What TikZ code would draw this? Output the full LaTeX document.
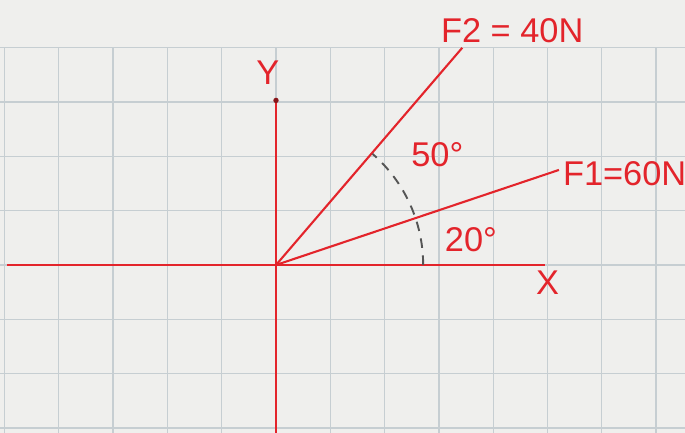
\documentclass[tikz,border=0pt]{standalone}
\usepackage{fontspec}
\setmainfont{Liberation Sans}
\usetikzlibrary{arrows.meta}
\definecolor{paper}{HTML}{EFEFED}
\definecolor{gridline}{HTML}{C6CED2}
\definecolor{ink}{HTML}{E3242B}
\definecolor{pencil}{HTML}{555555}

\begin{document}
\begin{tikzpicture}[>=Latex,
  axisline/.style={ink,line width=1.2pt},
  forceline/.style={ink,line width=1.1pt},
  lbl/.style={ink,font=\fontsize{18}{18}\selectfont}]
\fill[paper] (-5.083,-3.094) rectangle (7.532,4.880);
\useasboundingbox (-5.083,-3.094) rectangle (7.532,4.880);
\draw[gridline,line width=0.7pt] (-5.083,-3.094) grid (7.532,4);
\coordinate (O) at (0,0);
\coordinate (xl) at (-4.95,0);
\coordinate (xr) at (4.95,0);
\coordinate (yt) at (0,3.03);
\coordinate (yb) at (0,-3.094);
\coordinate (f1) at (5.21,1.75);
\coordinate (f2) at (3.43,4.0);
\coordinate (a0) at (2.71,0);
\draw[axisline] (xl) -- (xr);
\draw[axisline] (yb) -- (yt);
\fill[ink!60!black] (yt) circle (0.05);
\draw[forceline] (O) -- (f1);
\draw[forceline] (O) -- (f2);
\draw[pencil,line width=1pt,dash pattern=on 5pt off 4pt] (a0) arc[start angle=0,end angle=49,radius=2.71];
\node[lbl] (ylbl) at (-0.15,3.55) {Y};
\node[lbl] (xlbl) at (5.0,-0.33) {X};
\node[lbl] (f2lbl) at (4.35,4.31) {F2 = 40N};
\node[lbl] (f1lbl) at (6.42,1.68) {F1=60N};
\node[lbl] (ang2) at (2.97,2.03) {50°};
\node[lbl] (ang1) at (3.59,0.46) {20°};
\end{tikzpicture}
\end{document}
